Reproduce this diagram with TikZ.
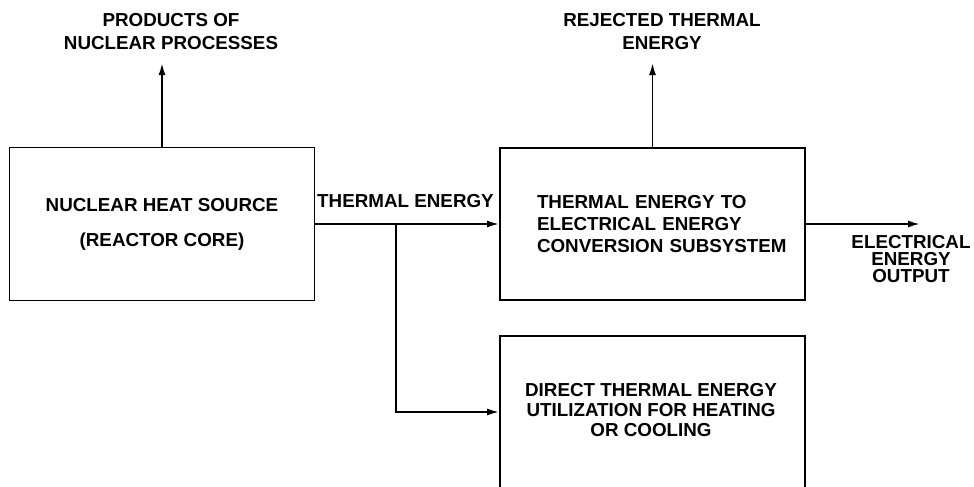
\documentclass[tikz,border=0pt]{standalone}
\usepackage{fontspec}
\setmainfont{Liberation Sans}
\usetikzlibrary{arrows.meta, positioning, calc}

\begin{document}
\begin{tikzpicture}[x=0.5pt, y=-0.5pt, line width=0.9pt,
  every node/.style={font=\bfseries\fontsize{9.4}{11.5}\selectfont},
  box/.style={draw, minimum width=152.5pt, inner sep=0pt},
  lbl/.style={align=center, inner ysep=6pt},
  arr/.style={-{Latex[length=6pt, width=3.5pt]}}]
\useasboundingbox (0,0) rectangle (974,487);
\clip (0,0) rectangle (974,487);
% blocks
\node[box, minimum height=76.5pt, align=center] (A) at (162,224) {NUCLEAR HEAT SOURCE\\[6pt](REACTOR CORE)};
\node[box, minimum height=76pt, text width=115.5pt, align=left] (B) at (652.5,224) {\mbox{THERMAL ENERGY TO}\\[-0.5pt]\mbox{ELECTRICAL ENERGY}\\[-0.5pt]\mbox{CONVERSION SUBSYSTEM}};
\node[box, minimum height=100pt, anchor=north] (C) at (652.5,335) {};
\node[align=center] (Ctxt) at (651,410) {DIRECT THERMAL ENERGY\\[-1.5pt]UTILIZATION FOR HEATING\\[-1.5pt]OR COOLING};
% labels
\node[lbl] (prod) at (171,32) {PRODUCTS OF\\NUCLEAR PROCESSES};
\node[lbl] (rej) at (662,32) {REJECTED THERMAL\\ENERGY};
\node (therm) at (405.5,201.5) {THERMAL ENERGY};
\node[align=center] (elec) at (911,259) {ELECTRICAL\\[-3pt]ENERGY\\[-3pt]OUTPUT};
% flows
\coordinate (br) at (396,224);
\coordinate (eout) at (920,224);
\draw[arr] (A.north) -- (A.north |- prod.south);
\draw[arr] (B.north) -- (B.north |- rej.south);
\draw[arr] (A.east) -- (B.west);
\draw[arr] (br) |- ($(C.north west)+(0,77)$);
\draw[arr] (B.east) -- (eout);
\end{tikzpicture}
\end{document}
